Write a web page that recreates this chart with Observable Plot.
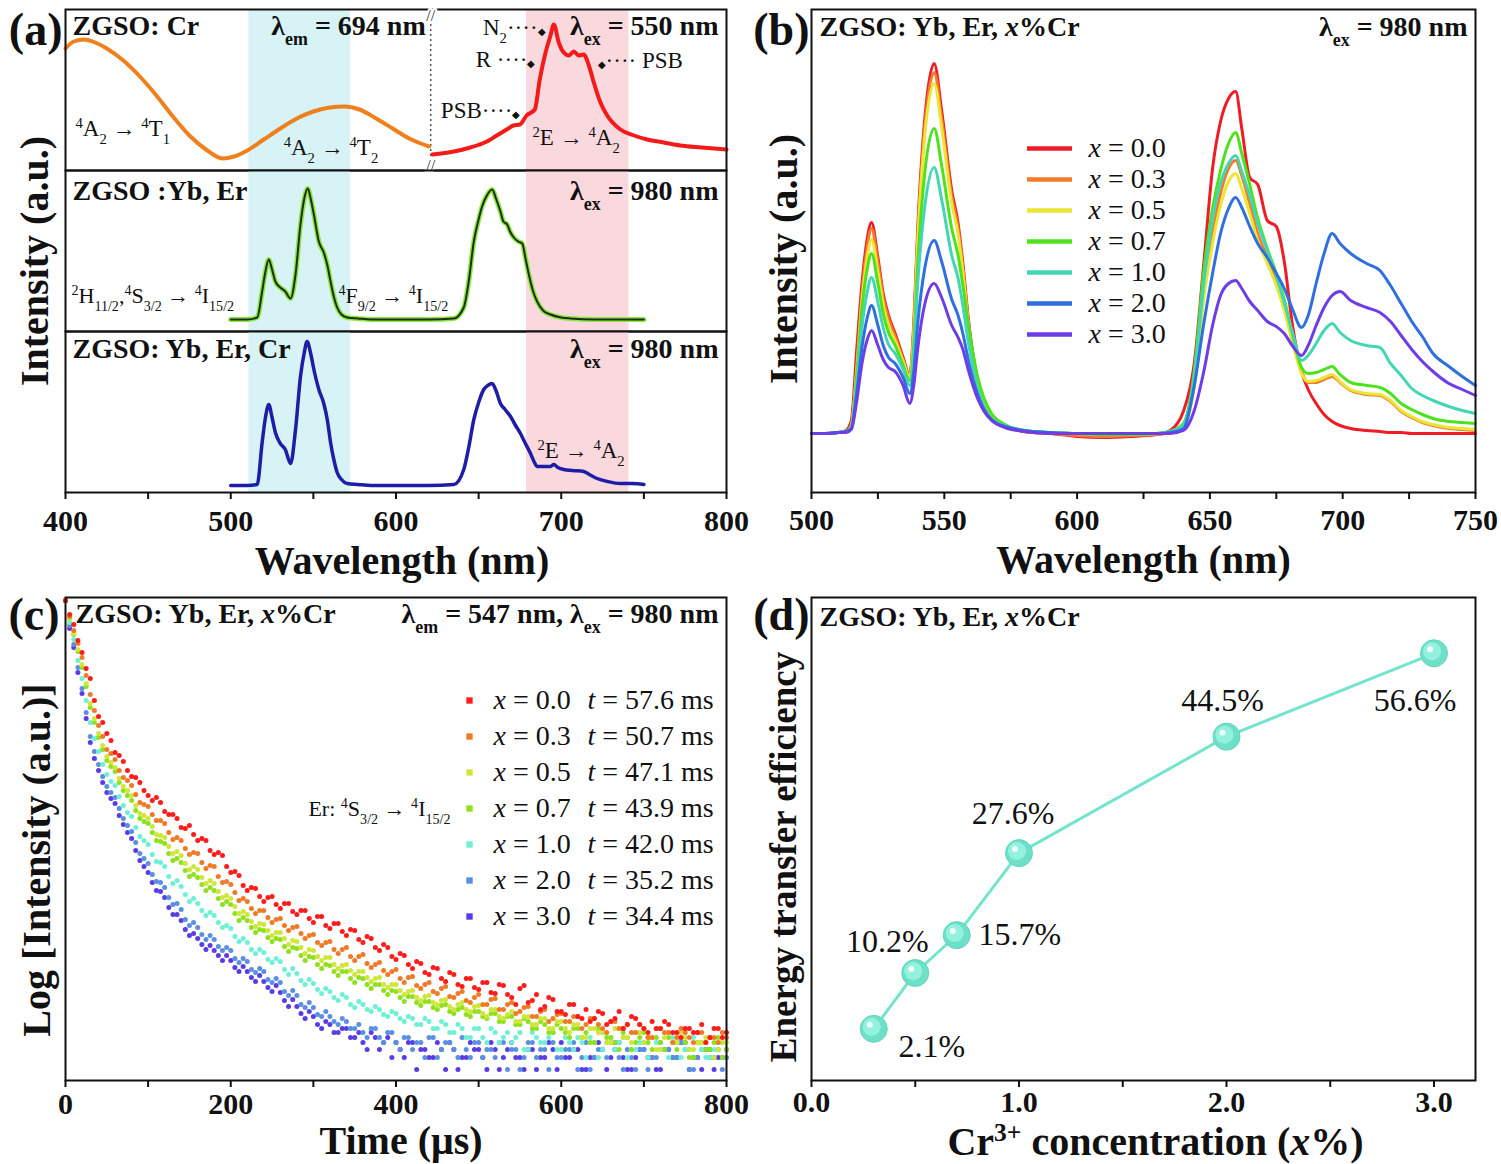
<!DOCTYPE html>
<html><head><meta charset="utf-8">
<script src="https://cdn.jsdelivr.net/npm/d3@7"></script>
<script src="https://cdn.jsdelivr.net/npm/@observablehq/plot@0.6"></script>
<style>
body{margin:0;background:#fff;}
#fig{position:relative;width:1501px;height:1164px;background:#fff;overflow:hidden;}
</style></head><body><div id="fig"></div>
<script>
// ---------------- Panel (a) data ----------------
const aExcLambda = [400,405,411,418,425,435,445,455,465,475,485,495,502,510,520,530,540,550,560,569,578,588,598,608,615,620];
const aExcInt    = [122,129,131,128,122,110,94,75,54,35,21,12,14,20,31,42,52,59,63,64,61,52,42,32,27,24];
const aEmLambda  = [622,635,645,655,661,667,671,675,679,684,687,690.5,693.5,695.5,698.5,701.5,704.6,707.6,710.6,713.6,716.7,719.7,723.7,727.8,735.8,744,752,762,772,785,800];
const aEmInt     = [16,19,23,29,35,41,45,46,55,61,91,118,135,146,128,118,115,119,115,116,105,88,68,55,41,35,31,28,25,23,21];
const aMidLambda = [500,510,516,519,521,523,525,527,530,533,536.2,539.2,542.2,544.5,546.6,548.5,550.3,553.3,556.3,558.5,560.4,562.5,564.4,567,570.5,577,585,600,620,635,641,644,647.1,650,652.1,655,658.2,660.5,663.2,665,667.3,669,671.3,674,676.4,678.5,680.4,683,685.4,689,693.5,700,705.6,720,735,750];
const aMidInt    = [12,12,14,40,60,72,62,50,44,40,33,57,107,133,143,132,117,90,79,66,50,34,24,17,14,13,12,12,12,13,24,50,90,112,125,136,142,133,120,110,107,100,94,90,88,72,57,40,30,21,17,14,13,12,12,12];
const aBotLambda = [500,510,516,519,521,523,525,527,530,533,536.2,539.2,542.2,544.5,546.2,548.5,550.3,553.3,556.3,558.5,560.4,562.5,564.4,567,570.5,577,585,600,620,635,641,644,647.1,650,653.1,655.5,658.2,660.5,663.2,666,669.3,672,675.3,678,681.4,683.5,685.4,689,693.5,695.5,698,701.5,707,713.6,717,721.7,728,735.8,743,750];
const aBotInt    = [7,7,8,50,75,88,75,60,49,43,29,63,116,140,151,138,123,103,89,72,50,32,20,13,9,8,7,7,7,8,23,45,73,90,103,107,109,102,89,83,76,68,59,50,39,31,26,26,26,28,25,23,22,21,18,14,11,9,9,8];
const aTicks = [400,450,500,550,600,650,700,750,800];
const aBandCyan = [511, 572.5];
const aBandPink = [679, 741];
const aBreak = [621];

// ---------------- Panel (b) data ----------------
const bLambda = [500,505,510,513,515,517,519,521,522.6,525,527,529,531.5,534.5,537,538.5,540,542.7,546.2,549,552.8,555.2,557,559,562.7,565,567.8,572.8,580,590,600,610,620,630,
  635,640,644,647.7,651,654,657,659.7,662,665,668,671.6,675,678,681,684.5,687,690,693,696,699,703,709,714,718,722,726,730,734,740,745,750];
const bX00 = [0,0,1,3,13,83,150,195,211,176,140,118,100,76,58,110,205,316,370,323,243,210,170,116,50,30,16,8,2,0,-3,-4,-3,-1,
  3,22,68,170,265,312,335,342,305,256,249,213,207,172,110,62,44,30,19,12,8,5,3,2,1,1,0,0,0,0,0,0];
const bX03 = [0,0,1,2,8,65,140,187,205,171,136,115,97,74,57,105,198,308,361,315,237,205,166,113,49,29,16,8,2,0,-2,-3,-2,-1,
  1,8,48,142,200,240,265,273,258,230,200,176,152,126,95,62,51,51,54,57,51,43,39,38,32,22,16,11,8,5,4,3];
const bX05 = [0,0,1,2,8,62,132,177,194,162,129,108,93,72,56,100,192,299,350,306,230,199,161,110,48,29,16,8,3,1,0,-1,-1,0,
  1,7,45,135,190,228,252,260,245,220,193,170,148,123,92,60,52,53,56,59,52,44,40,39,33,23,17,12,9,6,5,4];
const bX07 = [0,0,1,2,7,58,124,165,180,150,120,101,88,68,53,90,170,262,305,268,205,178,148,110,55,35,20,9,3,1,0,-1,-1,0,
  2,10,60,163,225,263,290,301,280,249,215,185,160,134,100,66,60,61,64,67,59,51,48,46,40,30,24,19,15,12,11,10];
const bX10 = [0,0,1,2,6,50,106,142,156,131,106,89,80,64,48,80,150,228,266,234,178,155,128,92,44,27,15,8,3,1,0,0,0,0,
  2,9,55,150,215,250,270,278,262,238,210,183,158,131,102,73,78,90,103,110,101,93,88,86,70,58,45,38,33,27,23,20];
const bX20 = [0,0,1,2,5,40,86,116,128,108,88,76,70,56,40,62,110,166,193,172,134,118,100,74,38,24,14,7,3,1,0,0,0,0,
  1,5,46,110,160,200,225,236,226,207,190,176,160,145,125,106,118,150,180,200,190,180,170,163,148,130,112,97,80,67,57,48];
const bX30 = [0,0,1,1,4,32,70,94,103,88,74,66,62,48,30,48,85,130,150,136,108,96,84,64,34,22,13,6,2,0,0,0,0,0,
  0,3,22,62,108,138,150,153,145,132,123,112,107,100,88,78,88,108,126,138,142,133,126,121,112,98,84,72,62,50,44,38];
const bLabels = ["0.0","0.3","0.5","0.7","1.0","2.0","3.0"];
const bColors = ["#ee1c25","#f47b2a","#ebe636","#4ee21e","#44d6b4","#2f6fe0","#6d3de6"];
const bTicks = [500,525,550,575,600,625,650,675,700,725,750];

// ---------------- Panel (c) data ----------------
const cTime = [0,10,20,30,40,50,60,70,80,90,100,110,120,130,140,150,160,170,180,190,200,210,220,230,240,250,260,270,280,290,300,310,320,330,340,350,360,370,380,390,400,410,420,430,440,450,460,470,480,490,500,510,520,530,540,550,560,570,580,590,600,610,620,630,640,650,660,670,680,690,700,710,720,730,740,750,760,770,780,790,800];
const cTimeHalf = [5,15,25,35,45,55,65,75,85,95,105,115,125,135,145,155,165,175,185,195,205,215,225,235,245,255,265,275,285,295,305,315,325,335,345,355,365,375,385,395,405,415,425,435,445,455,465,475,485,495,505,515,525,535,545,555,565,575,585,595,605,615,625,635,645,655,665,675,685,695,705,715,725,735,745,755,765,775,785,795];
const cX00 = [4.80,4.56,4.28,4.02,3.64,3.47,3.28,3.19,3.04,2.98, 2.85,2.83,2.69,2.66,2.53,2.55,2.40,2.40,2.26,2.25, 2.08,2.05,1.90,1.92,1.79,1.84,1.72,1.77,1.66,1.70, 1.58,1.64,1.52,1.57,1.45,1.50,1.38,1.42,1.30,1.33, 1.21,1.25,1.12,1.17,1.06,1.12,0.99,1.06,0.94,1.02, 0.91,0.98,0.87,0.95,0.83,0.92,0.78,0.86,0.74,0.81, 0.69,0.76,0.64,0.71,0.62,0.67,0.59,0.69,0.56,0.62, 0.52,0.59,0.52,0.56,0.48,0.52,0.48,0.56,0.43,0.52, 0.48];
const cX00h = [4.66,4.40,4.12,3.80,3.58,3.40,3.25,3.10,3.03,2.90, 2.80,2.78,2.66,2.62,2.52,2.46,2.42,2.30,2.28,2.14, 2.09,1.95,1.93,1.84,1.83,1.76,1.77,1.69,1.70,1.62, 1.64,1.55,1.57,1.49,1.51,1.41,1.44,1.33,1.36,1.24, 1.27,1.16,1.19,1.08,1.13,1.02,1.08,0.96,1.02,0.93, 0.98,0.88,0.96,0.86,0.76,0.95,0.80,0.71,0.83,0.69, 0.66,0.76,0.62,0.59,0.69,0.56,0.62,0.52,0.64,0.56, 0.48,0.52,0.59,0.48,0.43,0.52,0.48,0.38,0.52,0.43];
const cX03 = [4.80,4.50,4.23,3.86,3.55,3.31,3.21,3.03,2.95,2.78, 2.74,2.60,2.57,2.41,2.40,2.26,2.27,2.12,2.14,1.98, 1.96,1.80,1.79,1.67,1.70,1.58,1.62,1.50,1.54,1.42, 1.46,1.35,1.39,1.27,1.33,1.20,1.26,1.13,1.18,1.06, 1.11,0.98,1.04,0.92,0.98,0.87,0.94,0.83,0.89,0.78, 0.86,0.76,0.82,0.71,0.78,0.69,0.74,0.64,0.71,0.62, 0.67,0.59,0.64,0.56,0.62,0.52,0.59,0.52,0.56,0.48, 0.52,0.43,0.52,0.48,0.43,0.48,0.38,0.48,0.43,0.38, 0.43];
const cX03h = [4.64,4.37,4.05,3.70,3.44,3.27,3.10,3.00,2.86,2.76, 2.66,2.60,2.48,2.43,2.32,2.28,2.18,2.15,2.04,1.99, 1.88,1.82,1.72,1.70,1.63,1.61,1.55,1.53,1.47,1.45, 1.38,1.38,1.31,1.31,1.24,1.24,1.17,1.16,1.10,1.09, 1.02,1.03,0.95,0.96,0.89,0.92,0.84,0.87,0.80,0.83, 0.76,0.81,0.71,0.76,0.67,0.73,0.64,0.69,0.59,0.66, 0.59,0.64,0.52,0.62,0.56,0.48,0.59,0.52,0.48,0.56, 0.43,0.52,0.48,0.38,0.52,0.43,0.48,0.38,0.43,0.48];
const cX05 = [4.80,4.47,4.16,3.77,3.47,3.24,3.13,2.94,2.85,2.67, 2.62,2.46,2.43,2.27,2.25,2.11,2.11,1.97,1.97,1.83, 1.82,1.67,1.66,1.54,1.56,1.45,1.48,1.36,1.39,1.27, 1.30,1.20,1.23,1.12,1.16,1.06,1.09,0.99,1.03,0.93, 0.96,0.86,0.90,0.80,0.85,0.76,0.81,0.71,0.78,0.69, 0.75,0.64,0.71,0.62,0.69,0.59,0.64,0.56,0.62,0.52, 0.59,0.48,0.56,0.43,0.52,0.48,0.38,0.52,0.43,0.48, 0.38,0.43,0.31,0.48,0.38,0.43,0.31,0.38,0.43,0.31, 0.38];
const cX05h = [4.62,4.31,3.97,3.62,3.35,3.18,3.02,2.90,2.75,2.65, 2.54,2.45,2.34,2.29,2.17,2.14,2.03,2.00,1.89,1.85, 1.74,1.69,1.59,1.57,1.50,1.48,1.42,1.40,1.33,1.31, 1.24,1.23,1.16,1.15,1.10,1.09,1.03,1.02,0.96,0.96, 0.90,0.89,0.83,0.84,0.78,0.80,0.74,0.76,0.71,0.74, 0.67,0.71,0.64,0.66,0.59,0.64,0.56,0.62,0.52,0.59, 0.52,0.56,0.43,0.52,0.48,0.38,0.52,0.43,0.38,0.48, 0.43,0.31,0.43,0.38,0.48,0.31,0.38,0.43,0.23,0.38];
const cX07 = [4.80,4.46,4.13,3.73,3.43,3.20,3.09,2.90,2.80,2.62, 2.57,2.40,2.37,2.20,2.18,2.04,2.03,1.90,1.90,1.76, 1.76,1.60,1.60,1.48,1.50,1.39,1.41,1.29,1.32,1.20, 1.23,1.12,1.15,1.05,1.09,0.98,1.02,0.92,0.96,0.86, 0.89,0.79,0.84,0.75,0.79,0.71,0.76,0.67,0.73,0.64, 0.69,0.62,0.67,0.59,0.64,0.56,0.59,0.52,0.56,0.48, 0.52,0.43,0.52,0.48,0.38,0.48,0.43,0.31,0.43,0.38, 0.48,0.31,0.38,0.43,0.31,0.38,0.23,0.38,0.31,0.43, 0.31];
const cX07h = [4.62,4.29,3.94,3.58,3.31,3.14,2.98,2.85,2.70,2.59, 2.48,2.39,2.27,2.22,2.10,2.06,1.96,1.93,1.82,1.79, 1.67,1.63,1.53,1.51,1.43,1.42,1.34,1.33,1.25,1.24, 1.16,1.16,1.09,1.09,1.02,1.03,0.96,0.96,0.90,0.90, 0.83,0.84,0.78,0.79,0.73,0.75,0.69,0.71,0.66,0.69, 0.64,0.67,0.59,0.64,0.56,0.62,0.52,0.59,0.48,0.56, 0.48,0.52,0.43,0.38,0.52,0.43,0.38,0.48,0.31,0.43, 0.38,0.43,0.31,0.38,0.43,0.23,0.38,0.31,0.38,0.23];
const cX10 = [4.80,4.41,4.02,3.58,3.29,3.06,2.95,2.75,2.64,2.44, 2.36,2.19,2.14,1.97,1.94,1.79,1.77,1.65,1.65,1.53, 1.52,1.39,1.38,1.27,1.28,1.18,1.19,1.06,1.07,0.96, 0.97,0.87,0.89,0.80,0.83,0.73,0.76,0.69,0.71,0.64, 0.67,0.59,0.62,0.56,0.59,0.52,0.56,0.48,0.52,0.43, 0.52,0.38,0.48,0.43,0.38,0.48,0.31,0.43,0.38,0.48, 0.31,0.38,0.43,0.23,0.38,0.31,0.43,0.38,0.23,0.31, 0.38,0.43,0.31,0.23,0.38,0.31,0.43,0.31,0.23,0.38, 0.31];
const cX10h = [4.58,4.20,3.80,3.42,3.16,2.99,2.84,2.68,2.53,2.40, 2.26,2.18,2.04,2.00,1.86,1.82,1.70,1.68,1.58,1.55, 1.44,1.42,1.31,1.31,1.21,1.22,1.11,1.12,1.00,1.01, 0.91,0.92,0.83,0.86,0.76,0.79,0.71,0.74,0.66,0.69, 0.62,0.64,0.56,0.62,0.52,0.59,0.48,0.56,0.43,0.52, 0.43,0.52,0.38,0.48,0.43,0.31,0.48,0.38,0.43,0.31, 0.43,0.31,0.38,0.43,0.23,0.38,0.31,0.43,0.31,0.38, 0.23,0.38,0.31,0.43,0.23,0.31,0.38,0.23,0.31,0.38];
const cX20 = [4.80,4.36,3.92,3.44,3.16,2.94,2.83,2.62,2.49,2.27, 2.17,1.99,1.93,1.76,1.71,1.55,1.53,1.41,1.41,1.30, 1.30,1.18,1.19,1.08,1.09,0.98,0.98,0.85,0.85,0.73, 0.73,0.64,0.64,0.56,0.59,0.52,0.48,0.52,0.43,0.48, 0.38,0.43,0.31,0.38,0.43,0.23,0.38,0.31,0.43,0.23, 0.38,0.31,0.23,0.38,0.31,0.11,0.38,0.23,0.31,0.38, 0.23,0.31,0.11,0.38,0.23,0.31,0.38,0.23,0.31,0.11, 0.31,0.23,0.38,0.31,0.23,0.31,0.11,0.31,0.23,0.31, 0.23];
const cX20h = [4.55,4.13,3.68,3.29,3.04,2.88,2.72,2.55,2.38,2.22, 2.06,1.98,1.83,1.77,1.61,1.58,1.46,1.45,1.34,1.33, 1.22,1.22,1.11,1.12,1.01,1.02,0.89,0.90,0.76,0.78, 0.66,0.69,0.59,0.62,0.52,0.56,0.43,0.52,0.38,0.48, 0.31,0.43,0.38,0.23,0.43,0.31,0.38,0.23,0.31,0.38, 0.23,0.31,0.38,0.11,0.31,0.23,0.38,0.31,0.11,0.23, 0.31,0.38,0.23,0.11,0.31,0.23,0.38,0.11,0.23,0.31, 0.11,0.23,0.31,0.23,0.38,0.11,0.23,0.31,0.23,0.11];
const cX30 = [4.80,4.33,3.87,3.38,3.10,2.88,2.77,2.56,2.42,2.20, 2.08,1.90,1.83,1.66,1.60,1.45,1.42,1.31,1.30,1.20, 1.20,1.09,1.09,0.99,0.99,0.89,0.88,0.74,0.74,0.62, 0.64,0.52,0.56,0.48,0.52,0.43,0.38,0.48,0.31,0.43, 0.38,0.23,0.38,0.31,0.23,0.38,0.11,0.31,0.23,0.38, 0.31,0.11,0.31,0.23,0.38,0.23,0.31,0.11,0.23,0.31, 0.38,0.23,0.31,0.11,0.23,0.31,0.23,0.38,0.11,0.23, 0.31,0.23,0.11,0.31,0.23,0.38,0.23,0.11,0.31,0.23, 0.31];
const cX30h = [4.52,4.08,3.62,3.22,2.98,2.82,2.65,2.48,2.30,2.14, 1.98,1.89,1.73,1.66,1.51,1.47,1.36,1.35,1.25,1.25, 1.13,1.14,1.03,1.05,0.93,0.95,0.80,0.81,0.67,0.69, 0.56,0.59,0.48,0.52,0.43,0.48,0.31,0.43,0.38,0.23, 0.31,0.38,0.11,0.31,0.23,0.31,0.38,0.11,0.23,0.31, 0.23,0.38,0.11,0.31,0.23,0.11,0.31,0.23,0.38,0.11, 0.23,0.31,0.11,0.23,0.38,0.11,0.31,0.23,0.11,0.31, 0.23,0.11,0.31,0.23,0.38,0.11,0.23,0.31,0.11,0.23];
const cLabels = ["0.0","0.3","0.5","0.7","1.0","2.0","3.0"];
const cLifetimes = [57.6, 50.7, 47.1, 43.9, 42.0, 35.2, 34.4];
const cColors = ["#ff1c1c","#f07a28","#cfe63a","#8fe01e","#6ef0d6","#5b8fe2","#5a3ce6"];
const cTicks = [0,100,200,300,400,500,600,700,800];

// ---------------- Panel (d) data ----------------
const dConc = [0.3, 0.5, 0.7, 1.0, 2.0, 3.0];
const dEff  = [2.1, 10.2, 15.7, 27.6, 44.5, 56.6];
const dTicks = [0, 0.5, 1.0, 1.5, 2.0, 2.5, 3.0];
// label offsets (style only)
const dLabelOffsets = [{dx:58,dy:18},{dx:-28,dy:-31},{dx:63,dy:0},{dx:-6,dy:-39},{dx:-4,dy:-36},{dx:-19,dy:47}];

// ---------------- helpers ----------------
const fig = document.getElementById("fig");
const FONT = "'Liberation Serif','Times New Roman',Times,serif";
const baseStyle = {fontFamily: FONT, background: "transparent", overflow: "visible", color: "#111"};
const SVGNS = "http://www.w3.org/2000/svg";

function rich(svg) {
  svg.querySelectorAll("text").forEach(t => {
    const spans = t.querySelectorAll("tspan");
    const targets = spans.length ? [...spans] : [t];
    targets.forEach(el => {
      const s = el.textContent;
      if (!/[\^_*~]\{/.test(s)) return;
      el.textContent = "";
      const re = /([\^_*~])\{([^}]*)\}/g;
      let last = 0, m;
      const add = (str, kind) => {
        if (!str) return;
        const sp = document.createElementNS(SVGNS, "tspan");
        sp.textContent = str;
        if (kind === "^") { sp.setAttribute("baseline-shift", "super"); sp.setAttribute("style", "font-size:0.64em"); }
        else if (kind === "_") { sp.setAttribute("baseline-shift", "sub"); sp.setAttribute("style", "font-size:0.64em"); }
        else if (kind === "*") { sp.setAttribute("font-style", "italic"); }
        else if (kind === "~") { sp.setAttribute("style", "font-size:0.45em"); }
        el.appendChild(sp);
      };
      while ((m = re.exec(s))) { add(s.slice(last, m.index), ""); add(m[2], m[1]); last = re.lastIndex; }
      add(s.slice(last), "");
    });
  });
}
function mount(svg, left, top) {
  svg.style.position = "absolute";
  svg.style.left = left + "px";
  svg.style.top = top + "px";
  svg.style.maxWidth = "none";
  fig.appendChild(svg);
  rich(svg);
}
const pts = (xs, ys) => xs.map((x, i) => ({x, y: ys[i]}));
const frame = () => Plot.frame({stroke: "#111", strokeWidth: 2});
const titleOpts = {fontSize: 28, fontWeight: "bold", lineAnchor: "middle"};
const annOpts = {fontSize: 23, lineAnchor: "middle"};

// ---------------- Panel (a): three stacked sub-panels ----------------
const bands = [
  {x1: aBandCyan[0], x2: aBandCyan[1], c: "#d7f3f5"},
  {x1: aBandPink[0], x2: aBandPink[1], c: "#fad9de"}
];
const bandMark = () => Plot.rect(bands, {x1: "x1", x2: "x2", fill: "c"});
const aCommon = {width: 750, marginLeft: 65, marginRight: 24, style: baseStyle,
  x: {domain: [400, 800], axis: null}, y: {domain: [0, 161], axis: null}};

const aTopAnn = [
  {x: 406, y: 42, t: "^{4}A_{2} → ^{4}T_{1}", a: "start"},
  {x: 532, y: 23, t: "^{4}A_{2} → ^{4}T_{2}", a: "start"},
  {x: 690.5, y: 143, t: "N_{2}····~{◆}", a: "end"},
  {x: 684.4, y: 111, t: "R ····~{◆}", a: "end"},
  {x: 722, y: 110, t: "~{◆}···· PSB", a: "start"},
  {x: 675.3, y: 60, t: "PSB····~{◆}", a: "end"},
  {x: 682.6, y: 33, t: "^{2}E → ^{4}A_{2}", a: "start"}
];
const aTop = Plot.plot({...aCommon, height: 170, marginTop: 9, marginBottom: 0,
  marks: [
    bandMark(),
    Plot.ruleX(aBreak, {stroke: "#555", strokeDasharray: "2,3", strokeWidth: 1.5}),
    Plot.line(pts(aExcLambda, aExcInt), {x: "x", y: "y", stroke: "#f0801e", strokeWidth: 4, curve: "monotone-x"}),
    Plot.line(pts(aEmLambda, aEmInt), {x: "x", y: "y", stroke: "#f31a1a", strokeWidth: 4, curve: "monotone-x"}),
    frame(),
    Plot.text(aBreak, {x: d => d, frameAnchor: "top", text: () => "//", fontSize: 16, stroke: "white", strokeWidth: 4, fill: "#333", paintOrder: "stroke"}),
    Plot.text(aBreak, {x: d => d, frameAnchor: "bottom", text: () => "//", fontSize: 16, stroke: "white", strokeWidth: 4, fill: "#333", paintOrder: "stroke"}),
    Plot.text(["ZGSO: Cr"], {...titleOpts, frameAnchor: "top-left", dx: 7, dy: 17, textAnchor: "start"}),
    Plot.text(["λ_{em} = 694 nm"], {...titleOpts, x: () => 618, frameAnchor: "top", dy: 17, textAnchor: "end"}),
    Plot.text(["λ_{ex} = 550 nm"], {...titleOpts, frameAnchor: "top-right", dx: -8, dy: 17, textAnchor: "end"}),
    Plot.text(aTopAnn.filter(d => d.a === "start"), {...annOpts, x: "x", y: "y", text: "t", textAnchor: "start"}),
    Plot.text(aTopAnn.filter(d => d.a === "end"), {...annOpts, x: "x", y: "y", text: "t", textAnchor: "end"}),
    Plot.text(["(a)"], {frameAnchor: "top-left", dx: -3, dy: 21, textAnchor: "end", lineAnchor: "middle", fontSize: 46, fontWeight: "bold"})
  ]});
mount(aTop, 0, 0);

const aMid = Plot.plot({...aCommon, height: 161, marginTop: 0, marginBottom: 0,
  marks: [
    bandMark(),
    Plot.line(pts(aMidLambda, aMidInt), {x: "x", y: "y", stroke: "#8ce63e", strokeWidth: 5, curve: "monotone-x"}),
    Plot.line(pts(aMidLambda, aMidInt), {x: "x", y: "y", stroke: "#1c2e1c", strokeWidth: 2, curve: "monotone-x"}),
    frame(),
    Plot.text(["ZGSO :Yb, Er"], {...titleOpts, frameAnchor: "top-left", dx: 7, dy: 21, textAnchor: "start"}),
    Plot.text(["λ_{ex} = 980 nm"], {...titleOpts, frameAnchor: "top-right", dx: -8, dy: 21, textAnchor: "end"}),
    Plot.text([{x: 403.6, y: 36, t: "^{2}H_{11/2},^{4}S_{3/2} → ^{4}I_{15/2}"}, {x: 565.2, y: 36, t: "^{4}F_{9/2} → ^{4}I_{15/2}"}],
      {fontSize: 22, lineAnchor: "middle", x: "x", y: "y", text: "t", textAnchor: "start"}),
    Plot.text(["Intensity (a.u.)"], {frameAnchor: "left", rotate: -90, dx: -30, dy: 10, fontSize: 40, fontWeight: "bold", textAnchor: "middle", lineAnchor: "middle"})
  ]});
mount(aMid, 0, 170);

const aBot = Plot.plot({...aCommon, x: {domain: [400, 800]}, height: 259, marginTop: 0, marginBottom: 98,
  marks: [
    bandMark(),
    Plot.line(pts(aBotLambda, aBotInt), {x: "x", y: "y", stroke: "#1f1ca6", strokeWidth: 3.5, curve: "monotone-x"}),
    frame(),
    Plot.axisX({ticks: aTicks, tickFormat: d => d % 100 === 0 ? d : "", tickSize: 7, tickPadding: 10, fontSize: 30, fontWeight: "bold", strokeWidth: 2, label: null}),
    Plot.text(["ZGSO: Yb, Er, Cr"], {...titleOpts, frameAnchor: "top-left", dx: 7, dy: 18, textAnchor: "start"}),
    Plot.text(["λ_{ex} = 980 nm"], {...titleOpts, frameAnchor: "top-right", dx: -8, dy: 18, textAnchor: "end"}),
    Plot.text([{x: 685.6, y: 42, t: "^{2}E → ^{4}A_{2}"}], {...annOpts, x: "x", y: "y", text: "t", textAnchor: "start"}),
    Plot.text(["Wavelength (nm)"], {frameAnchor: "bottom", dy: 69, dx: 6, fontSize: 40, fontWeight: "bold", lineAnchor: "middle"})
  ]});
mount(aBot, 0, 331);

// ---------------- Panel (b) ----------------
const bSeries = [bX00, bX03, bX05, bX07, bX10, bX20, bX30];
const bTable = [];
bSeries.forEach((vals, si) => bLambda.forEach((lam, i) => bTable.push({lam, v: vals[i], s: bLabels[si]})));
const panelB = Plot.plot({width: 751, height: 590, marginLeft: 61, marginRight: 26, marginTop: 9, marginBottom: 98, style: baseStyle,
  x: {domain: [500, 750]}, y: {domain: [-59, 424], axis: null},
  color: {domain: bLabels, range: bColors},
  marks: [
    Plot.line(bTable, {x: "lam", y: "v", z: "s", stroke: "s", strokeWidth: 3, curve: "monotone-x"}),
    frame(),
    Plot.axisX({ticks: bTicks, tickFormat: d => d % 50 === 0 ? d : "", tickSize: 7, tickPadding: 9, fontSize: 30, fontWeight: "bold", strokeWidth: 2, label: null}),
    Plot.text(["ZGSO: Yb, Er, *{x}%Cr"], {...titleOpts, frameAnchor: "top-left", dx: 8, dy: 18, textAnchor: "start"}),
    Plot.text(["λ_{ex} = 980 nm"], {...titleOpts, frameAnchor: "top-right", dx: -8, dy: 18, textAnchor: "end"}),
    Plot.text(["Wavelength (nm)"], {frameAnchor: "bottom", dy: 68, fontSize: 40, fontWeight: "bold", lineAnchor: "middle"}),
    Plot.text(["Intensity (a.u.)"], {frameAnchor: "left", rotate: -90, dx: -27, dy: 8, fontSize: 40, fontWeight: "bold", textAnchor: "middle", lineAnchor: "middle"}),
    Plot.text(["(b)"], {frameAnchor: "top-left", dx: -2, dy: 21, textAnchor: "end", lineAnchor: "middle", fontSize: 46, fontWeight: "bold"})
  ]});
mount(panelB, 750, 0);

const legendB = Plot.plot({width: 200, height: 220, marginLeft: 0, marginRight: 0, marginTop: 17, marginBottom: 15, style: baseStyle,
  x: {domain: [0, 200], axis: null}, y: {type: "point", domain: bLabels, padding: 0, axis: null},
  color: {domain: bLabels, range: bColors},
  marks: [
    Plot.ruleY(bLabels, {y: d => d, x1: 7, x2: 52, stroke: d => d, strokeWidth: 4.5}),
    Plot.text(bLabels, {y: d => d, x: 68, text: d => "*{x} = " + d, textAnchor: "start", fontSize: 28, lineAnchor: "middle"})
  ]});
mount(legendB, 1020, 130);

// ---------------- Panel (c) ----------------
const cSeries = [cX00, cX03, cX05, cX07, cX10, cX20, cX30];
const cSeriesHalf = [cX00h, cX03h, cX05h, cX07h, cX10h, cX20h, cX30h];
const cTable = [];
for (let si = cSeries.length - 1; si >= 0; si--) {
  cTime.forEach((t, i) => cTable.push({t, u: cSeries[si][i], s: cLabels[si]}));
  cTimeHalf.forEach((t, i) => cTable.push({t, u: cSeriesHalf[si][i], s: cLabels[si]}));
}
const panelC = Plot.plot({width: 750, height: 574, marginLeft: 65, marginRight: 24, marginTop: 7, marginBottom: 84, style: baseStyle,
  x: {domain: [0, 800]}, y: {domain: [0, 4.83], axis: null},
  color: {domain: cLabels, range: cColors},
  marks: [
    Plot.dot(cTable, {x: "t", y: "u", fill: "s", r: 2.5}),
    frame(),
    Plot.axisX({ticks: cTicks, tickFormat: d => d % 200 === 0 ? d : "", tickSize: 7, tickPadding: 5, fontSize: 30, fontWeight: "bold", strokeWidth: 2, label: null}),
    Plot.text(["ZGSO: Yb, Er, *{x}%Cr"], {...titleOpts, frameAnchor: "top-left", dx: 10, dy: 17, textAnchor: "start"}),
    Plot.text(["λ_{em} = 547 nm, λ_{ex} = 980 nm"], {...titleOpts, frameAnchor: "top-right", dx: -8, dy: 17, textAnchor: "end"}),
    Plot.text(["Time (μs)"], {frameAnchor: "bottom", dy: 61, dx: 5, fontSize: 40, fontWeight: "bold", lineAnchor: "middle"}),
    Plot.text(["Log [Intensity (a.u.)]"], {frameAnchor: "left", rotate: -90, dx: -28, dy: 21, fontSize: 40, fontWeight: "bold", textAnchor: "middle", lineAnchor: "middle"}),
    Plot.text(["(c)"], {frameAnchor: "top-left", dx: -6, dy: 18, textAnchor: "end", lineAnchor: "middle", fontSize: 46, fontWeight: "bold"})
  ]});
mount(panelC, 0, 590);

const legendC = Plot.plot({width: 440, height: 260, marginLeft: 0, marginRight: 0, marginTop: 17, marginBottom: 22, style: baseStyle,
  x: {domain: [0, 440], axis: null}, y: {type: "point", domain: cLabels, padding: 0, axis: null},
  color: {domain: cLabels, range: cColors},
  marks: [
    Plot.dot(cLabels, {x: 179, y: d => d, fill: d => d, symbol: "square", r: 3.6}),
    Plot.text(cLabels, {x: 203, y: d => d, text: d => "*{x} = " + d, textAnchor: "start", fontSize: 28, lineAnchor: "middle"}),
    Plot.text(cLabels, {x: 297, y: d => d, text: (d, i) => "*{t} = " + cLifetimes[i].toFixed(1) + " ms", textAnchor: "start", fontSize: 28, lineAnchor: "middle"}),
    Plot.text([cLabels[3]], {x: 160, y: d => d, text: () => "Er: ^{4}S_{3/2} → ^{4}I_{15/2}", textAnchor: "end", fontSize: 22, lineAnchor: "middle"})
  ]});
mount(legendC, 290, 680);

// ---------------- Panel (d) ----------------
const dTable = dConc.map((c, i) => ({c, e: dEff[i]}));
const dLabelMarks = dTable.map((row, k) => Plot.text([row], {x: "c", y: "e", text: d => d.e.toFixed(1) + "%", dx: dLabelOffsets[k].dx, dy: dLabelOffsets[k].dy, fontSize: 32, lineAnchor: "middle"}));
const panelD = Plot.plot({width: 751, height: 574, marginLeft: 61, marginRight: 26, marginTop: 7, marginBottom: 84, style: baseStyle,
  x: {domain: [0, 3.2]}, y: {domain: [-5.4, 64.7], axis: null},
  marks: [
    Plot.line(dTable, {x: "c", y: "e", stroke: "#74e4cd", strokeWidth: 3}),
    Plot.dot(dTable, {x: "c", y: "e", r: 13.5, fill: "#6fe0c8", stroke: "#5fd6bd", strokeWidth: 1}),
    Plot.dot(dTable, {x: "c", y: "e", r: 9, fill: "#93f2de", dx: -2, dy: -2}),
    Plot.dot(dTable, {x: "c", y: "e", r: 3, fill: "#ffffff", fillOpacity: 0.85, dx: -4, dy: -4}),
    ...dLabelMarks,
    frame(),
    Plot.axisX({ticks: dTicks, tickFormat: d => Number.isInteger(d) ? d.toFixed(1) : "", tickSize: 7, tickPadding: 3, fontSize: 30, fontWeight: "bold", strokeWidth: 2, label: null}),
    Plot.text(["ZGSO: Yb, Er, *{x}%Cr"], {...titleOpts, frameAnchor: "top-left", dx: 8, dy: 20, textAnchor: "start"}),
    Plot.text(["Cr^{3+} concentration (*{x}%)"], {frameAnchor: "bottom", dy: 62, dx: 12, fontSize: 40, fontWeight: "bold", lineAnchor: "middle"}),
    Plot.text(["Energy transfer efficiency"], {frameAnchor: "left", rotate: -90, dx: -27, dy: 18, fontSize: 37, fontWeight: "bold", textAnchor: "middle", lineAnchor: "middle"}),
    Plot.text(["(d)"], {frameAnchor: "top-left", dx: -2, dy: 18, textAnchor: "end", lineAnchor: "middle", fontSize: 46, fontWeight: "bold"})
  ]});
mount(panelD, 750, 590);
</script></body></html>
